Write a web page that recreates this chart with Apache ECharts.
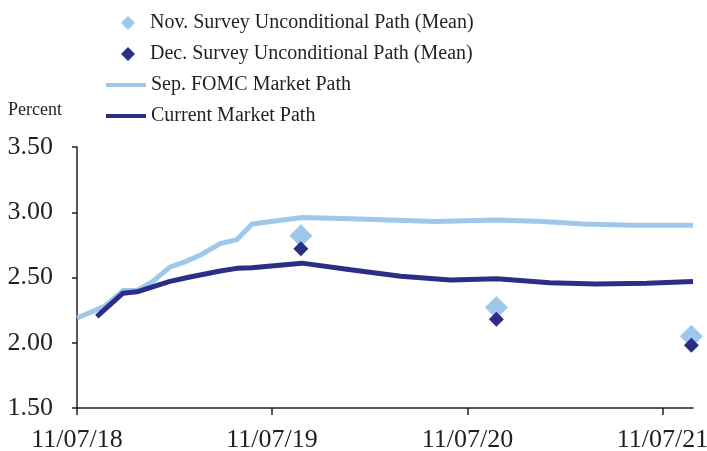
<!DOCTYPE html>
<html>
<head>
<meta charset="utf-8">
<script src="https://cdn.jsdelivr.net/npm/echarts@6/dist/echarts.min.js"></script>
<style>
  html, body { margin: 0; padding: 0; background: #fff; }
  #chart { width: 707px; height: 451px; }
</style>
</head>
<body>
<div id="chart"></div>
<script>
// x positions are dates, plotted as days since 11/07/18
const startDate = '2018-11-07'
const endDate = '2022-01-03'

const tickDates = ['2018-11-07', '2019-11-07', '2020-11-07', '2021-11-07']
const tickLabels = ['11/07/18', '11/07/19', '11/07/20', '11/07/21']

// Sep. FOMC market path
const fomcDates = ['2018-11-07', '2018-12-29', '2019-02-01', '2019-02-27', '2019-03-29', '2019-04-30',
  '2019-05-28', '2019-06-25', '2019-08-02', '2019-09-02', '2019-10-01', '2020-01-02', '2020-04-02',
  '2020-09-08', '2021-01-01', '2021-03-28', '2021-06-12', '2021-09-11', '2022-01-03']
const fomcValues = [2.19, 2.28, 2.40, 2.40, 2.47, 2.58, 2.62, 2.67, 2.76, 2.79, 2.91, 2.96, 2.95,
  2.93, 2.94, 2.93, 2.91, 2.90, 2.90]

// Current market path
const currentDates = ['2018-12-14', '2019-02-01', '2019-02-27', '2019-04-30', '2019-06-02', '2019-08-02',
  '2019-09-02', '2019-09-30', '2019-10-01', '2020-01-02', '2020-04-02', '2020-07-05', '2020-10-06',
  '2021-01-01', '2021-04-10', '2021-07-05', '2021-10-09', '2022-01-03']
const currentValues = [2.20, 2.38, 2.39, 2.47, 2.50, 2.55, 2.57, 2.575, 2.59, 2.61, 2.56, 2.51, 2.48,
  2.49, 2.46, 2.45, 2.455, 2.47]

// survey means, year ends
const surveyDates = ['2019-12-31', '2020-12-31', '2021-12-31']
const novSurvey = [2.82, 2.27, 2.05]
const decSurvey = [2.72, 2.18, 1.98]

const lightBlue = '#9dc8eb'
const navy = '#2b2d86'
const textColor = '#231f20'
const serif = '"Liberation Serif", "Times New Roman", serif'

function dayOf(d) {
  return (Date.parse(d) - Date.parse(startDate)) / 86400000
}
function pairs(dates, values) {
  return dates.map((d, i) => [dayOf(d), values[i]])
}

const tickDays = tickDates.map(dayOf)

const chart = echarts.init(document.getElementById('chart'))
chart.setOption({
  animation: false,
  title: {
    text: 'Percent',
    left: 3,
    top: 96,
    textStyle: { fontFamily: serif, fontSize: 18, fontWeight: 'normal', color: textColor }
  },
  legend: [
    {
      // survey diamonds
      orient: 'vertical',
      left: 121,
      top: 13,
      padding: 0,
      itemWidth: 14,
      itemHeight: 14,
      itemGap: 11,
      icon: 'diamond',
      textStyle: { fontFamily: serif, fontSize: 20, color: textColor, padding: [0, 0, 0, 10] },
      data: ['Nov. Survey Unconditional Path (Mean)', 'Dec. Survey Unconditional Path (Mean)']
    },
    {
      // market path lines
      orient: 'vertical',
      left: 106,
      top: 75,
      padding: 0,
      itemWidth: 40,
      itemHeight: 4,
      itemGap: 11,
      icon: 'rect',
      textStyle: { fontFamily: serif, fontSize: 20, color: textColor },
      data: ['Sep. FOMC Market Path', 'Current Market Path']
    }
  ],
  grid: { left: 77, right: 14, top: 147, bottom: 43, outerBoundsMode: 'none' },
  xAxis: {
    type: 'value',
    min: 0,
    max: dayOf(endDate),
    splitLine: { show: false },
    axisLine: { lineStyle: { color: textColor, width: 1.5 } },
    axisTick: { customValues: tickDays, length: 7, lineStyle: { color: textColor, width: 1.5 } },
    axisLabel: {
      customValues: tickDays,
      margin: 19,
      fontFamily: serif,
      fontSize: 26,
      color: textColor,
      formatter: v => tickLabels[tickDays.indexOf(v)] || ''
    }
  },
  yAxis: {
    type: 'value',
    min: 1.5,
    max: 3.5,
    interval: 0.5,
    splitLine: { show: false },
    axisLine: { show: true, lineStyle: { color: textColor, width: 1.5 } },
    axisTick: { show: true, length: 5, lineStyle: { color: textColor, width: 1.5 } },
    axisLabel: {
      margin: 24,
      fontFamily: serif,
      fontSize: 26,
      color: textColor,
      formatter: v => v.toFixed(2)
    }
  },
  series: [
    {
      name: 'Sep. FOMC Market Path',
      type: 'line',
      data: pairs(fomcDates, fomcValues),
      symbol: 'none',
      lineStyle: { color: lightBlue, width: 5 },
      itemStyle: { color: lightBlue }
    },
    {
      name: 'Current Market Path',
      type: 'line',
      data: pairs(currentDates, currentValues),
      symbol: 'none',
      lineStyle: { color: navy, width: 5 },
      itemStyle: { color: navy }
    },
    {
      name: 'Nov. Survey Unconditional Path (Mean)',
      type: 'scatter',
      symbol: 'diamond',
      symbolSize: 23,
      clip: false,
      data: pairs(surveyDates, novSurvey),
      itemStyle: { color: lightBlue, opacity: 1 }
    },
    {
      name: 'Dec. Survey Unconditional Path (Mean)',
      type: 'scatter',
      symbol: 'diamond',
      symbolSize: 15,
      clip: false,
      data: pairs(surveyDates, decSurvey),
      itemStyle: { color: navy, opacity: 1 }
    }
  ]
})
</script>
</body>
</html>
